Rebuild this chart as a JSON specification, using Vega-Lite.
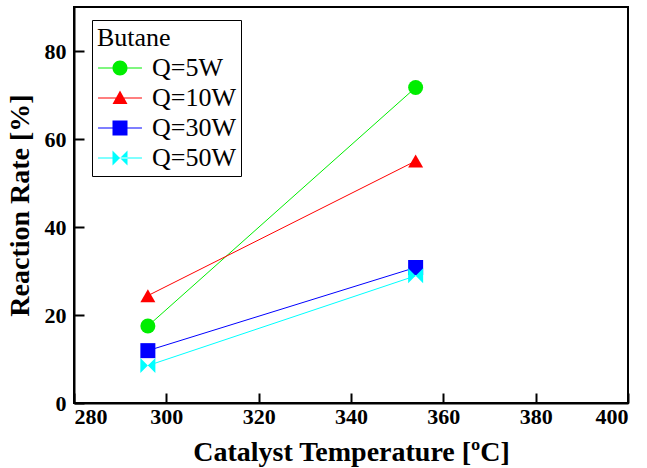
{
  "$schema": "https://vega.github.io/schema/vega-lite/v6.json",
  "width": 554,
  "height": 396,
  "autosize": {"type": "none"},
  "padding": {"left": 74, "top": 7, "right": 19, "bottom": 65},
  "background": "white",
  "config": {
    "view": {"stroke": "black", "strokeWidth": 2},
    "axis": {
      "grid": false,
      "domainColor": "black",
      "domainWidth": 2,
      "tickColor": "black",
      "tickWidth": 2,
      "tickSize": -10,
      "labelFont": "Liberation Serif, Times New Roman, serif",
      "labelFontWeight": "bold",
      "labelFontSize": 22,
      "labelColor": "black",
      "titleFont": "Liberation Serif, Times New Roman, serif",
      "titleFontWeight": "bold",
      "titleFontSize": 28,
      "titleColor": "black"
    }
  },
  "data": {
    "values": [
      {"series": "Q=5W", "temp": 296, "rate": 17.5},
      {"series": "Q=5W", "temp": 354, "rate": 71.7},
      {"series": "Q=10W", "temp": 296, "rate": 24.4},
      {"series": "Q=10W", "temp": 354, "rate": 55.0},
      {"series": "Q=30W", "temp": 296, "rate": 11.9},
      {"series": "Q=30W", "temp": 354, "rate": 30.8},
      {"series": "Q=50W", "temp": 296, "rate": 8.5},
      {"series": "Q=50W", "temp": 354, "rate": 28.9}
    ]
  },
  "encoding": {
    "x": {
      "field": "temp", "type": "quantitative",
      "scale": {"domain": [280, 400], "nice": false, "zero": false},
      "axis": {"values": [280, 300, 320, 340, 360, 380, 400], "title": "Catalyst Temperature [ºC]", "labelPadding": 13, "titlePadding": 11}
    },
    "y": {
      "field": "rate", "type": "quantitative",
      "scale": {"domain": [0, 90], "nice": false},
      "axis": {"values": [0, 20, 40, 60, 80], "title": "Reaction Rate [%]", "labelPadding": 18, "titlePadding": 10}
    }
  },
  "layer": [
    {
      "mark": {"type": "line", "strokeWidth": 1},
      "encoding": {
        "detail": {"field": "series"},
        "stroke": {
          "field": "series", "type": "nominal",
          "scale": {"domain": ["Q=50W", "Q=30W", "Q=10W", "Q=5W"], "range": ["#00ffff", "#0000ff", "#ff0000", "#00ee00"]},
          "legend": null
        }
      }
    },
    {
      "mark": {"type": "point", "filled": true, "opacity": 1, "size": 225},
      "encoding": {
        "shape": {
          "field": "series", "type": "nominal",
          "scale": {"domain": ["Q=10W", "Q=30W", "Q=50W", "Q=5W"], "range": ["triangle-up", "square", "M-1,-1L0,0L-1,1ZM1,-1L0,0L1,1Z", "circle"]},
          "legend": null
        },
        "color": {
          "field": "series", "type": "nominal",
          "scale": {"domain": ["Q=5W", "Q=10W", "Q=30W", "Q=50W"], "range": ["#00ee00", "#ff0000", "#0000ff", "#00ffff"]},
          "legend": {
            "orient": "none",
            "legendX": 18,
            "legendY": 13,
            "title": "Butane",
            "titleFont": "Liberation Serif, Times New Roman, serif",
            "titleFontWeight": "normal",
            "titleFontSize": 26,
            "titleColor": "black",
            "titlePadding": 4,
            "labelFont": "Liberation Serif, Times New Roman, serif",
            "labelFontSize": 26,
            "labelColor": "black",
            "labelOffset": 19,
            "symbolOffset": 10,
            "symbolSize": 225,
            "symbolStrokeWidth": 0,
            "symbolType": {"expr": "datum.value === 'Q=5W' ? 'M1,0A1,1,0,1,1,-1,0A1,1,0,1,1,1,0ZM-2.93,-0.07H2.93V0.07H-2.93Z' : datum.value === 'Q=10W' ? 'M0,-1L1,0.8L-1,0.8ZM-2.93,-0.07H2.93V0.07H-2.93Z' : datum.value === 'Q=30W' ? 'M-1,-1H1V1H-1ZM-2.93,-0.07H2.93V0.07H-2.93Z' : 'M-1,-1L0,0L-1,1ZM1,-1L0,0L1,1ZM-2.93,-0.07H2.93V0.07H-2.93Z'"},
            "rowPadding": 4,
            "padding": 5,
            "strokeColor": "black",
            "fillColor": "white",
            "cornerRadius": 0,
            "encode": {
              "legend": {"strokeWidth": {"value": 2}}
            }
          }
        }
      }
    }
  ]
}
